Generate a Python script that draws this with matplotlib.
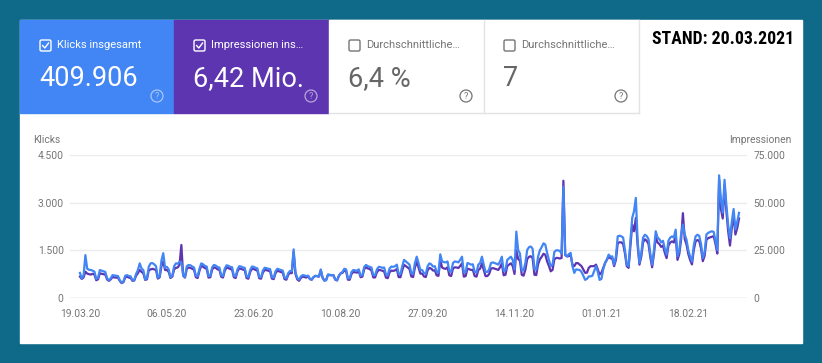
import matplotlib
matplotlib.use("Agg")
import matplotlib.pyplot as plt
import matplotlib.patches as mpatches
from matplotlib.ticker import FuncFormatter
from matplotlib import font_manager
import pandas as pd

# daily values, 19.03.20 .. 18.03.21 (rows = weeks starting on Thursday)
start_date = "2020-03-19"
clicks = [
    790, 610, 720, 1350, 920, 890, 880,
    860, 830, 600, 640, 880, 860, 840,
    820, 620, 560, 620, 720, 710, 700,
    690, 560, 480, 520, 700, 720, 690,
    680, 560, 570, 760, 880, 1090, 930,
    880, 590, 620, 980, 1090, 1100, 1060,
    1000, 640, 680, 1180, 1410, 950, 980,
    900, 650, 700, 1000, 1090, 1080, 1140,
    1120, 720, 660, 1000, 1040, 1030, 990,
    960, 700, 680, 920, 1090, 1060, 1010,
    990, 690, 700, 960, 1040, 1020, 970,
    960, 720, 690, 930, 1030, 1010, 980,
    970, 700, 680, 900, 1000, 990, 960,
    950, 680, 650, 880, 990, 980, 950,
    930, 670, 650, 860, 950, 940, 920,
    910, 660, 640, 840, 920, 900, 880,
    860, 640, 620, 780, 850, 840, 1530,
    820, 630, 580, 680, 720, 710, 690,
    700, 600, 580, 660, 700, 690, 680,
    900, 640, 540, 560, 740, 730, 720,
    720, 580, 560, 700, 780, 820, 920,
    900, 620, 620, 820, 880, 870, 860,
    900, 700, 720, 980, 1040, 1000, 980,
    960, 720, 720, 900, 980, 970, 950,
    960, 740, 720, 930, 990, 980, 1000,
    1050, 760, 750, 1000, 1200, 1150, 1100,
    1050, 780, 760, 1100, 1300, 1100, 880,
    880, 780, 760, 1000, 1090, 1060, 990,
    1000, 820, 800, 1375, 1150, 1130, 1120,
    1150, 850, 820, 1100, 1150, 1140, 1120,
    1200, 1300, 800, 820, 1100, 1080, 1050,
    1060, 820, 800, 1050, 1100, 1300, 1050,
    820, 820, 900, 1100, 1120, 1100, 1080,
    1050, 1150, 1300, 850, 870, 1200, 1250,
    1300, 1200, 900, 2090, 1510, 1400, 870,
    870, 1100, 1510, 1600, 1620, 1550, 900,
    890, 1300, 1500, 1600, 1720, 1680, 1420,
    1200, 1000, 1050, 1450, 1500, 1500, 1480,
    1400, 3500, 1350, 1310, 1380, 1420, 1000,
    790, 900, 890, 880, 820, 700, 570,
    600, 680, 680, 700, 850, 1000, 820,
    570, 600, 900, 1100, 1210, 1365, 1300,
    1310, 1050, 1300, 1940, 1960, 1940, 1900,
    1500, 1050, 1000, 1800, 2520, 2730, 3150,
    1800, 1100, 1400, 1900, 1990, 1950, 1850,
    1400, 1050, 1500, 2100, 1900, 1850, 1750,
    1800, 1550, 1365, 1800, 1900, 1940, 1900,
    2150, 1310, 1500, 2000, 2310, 2000, 1830,
    1500, 1300, 1150, 1650, 1940, 1990, 1960,
    1700, 1260, 1450, 2000, 2050, 2080, 2100,
    2080, 1800, 1510, 3860, 3100, 2680, 3720,
    2930, 2300, 1880, 2400, 2800, 2150, 2400,
    2680,
]
# impressions in thousands
impressions_k = [
    11.2, 10.0, 10.8, 13.8, 12.8, 12.5, 12.3,
    12.7, 12.3, 9.3, 9.8, 13.0, 12.7, 12.5,
    12.3, 9.7, 9.0, 9.8, 11.0, 10.8, 10.7,
    10.7, 9.0, 7.8, 8.3, 10.8, 11.2, 10.7,
    10.5, 9.0, 9.2, 11.7, 13.0, 14.7, 13.7,
    13.0, 9.5, 9.8, 14.5, 15.0, 15.3, 15.0,
    14.7, 10.2, 10.8, 16.7, 19.2, 14.7, 14.7,
    13.7, 10.5, 11.2, 15.0, 15.8, 16.0, 17.5,
    27.8, 11.7, 10.7, 15.3, 16.0, 15.8, 15.3,
    14.9, 10.9, 10.5, 14.3, 16.9, 16.4, 15.7,
    15.3, 10.7, 10.9, 14.9, 16.1, 15.8, 15.0,
    14.9, 11.2, 10.7, 14.4, 16.0, 15.7, 15.2,
    15.0, 10.9, 10.5, 14.0, 15.5, 15.3, 14.9,
    14.7, 10.5, 10.1, 13.6, 15.3, 15.2, 14.7,
    14.4, 10.4, 10.1, 13.3, 14.7, 14.6, 14.3,
    14.1, 10.2, 9.9, 13.0, 14.3, 14.0, 13.6,
    13.3, 9.9, 9.6, 12.1, 13.2, 13.0, 24.0,
    12.7, 9.8, 9.0, 10.5, 11.2, 11.0, 10.7,
    11.6, 9.9, 9.6, 10.9, 11.6, 11.4, 11.2,
    14.5, 10.6, 9.2, 9.6, 12.2, 12.0, 11.9,
    11.9, 9.6, 9.2, 11.6, 12.9, 13.2, 14.5,
    14.0, 9.6, 9.6, 12.7, 13.6, 13.5, 13.3,
    14.0, 10.9, 11.2, 15.2, 16.1, 15.5, 15.2,
    14.4, 10.8, 10.8, 13.5, 14.7, 14.6, 14.3,
    13.9, 10.7, 10.4, 13.5, 14.4, 14.2, 14.5,
    15.2, 11.0, 10.9, 14.5, 17.4, 16.7, 16.0,
    15.2, 11.3, 11.0, 16.0, 18.9, 16.0, 12.8,
    12.8, 11.3, 11.0, 14.5, 15.8, 15.4, 14.4,
    14.5, 11.9, 11.6, 20.0, 16.0, 15.5, 15.3,
    16.1, 11.9, 11.5, 15.4, 16.1, 16.0, 15.7,
    16.8, 18.2, 11.2, 11.5, 15.4, 15.1, 14.7,
    14.8, 11.5, 11.2, 14.7, 15.4, 18.2, 14.7,
    11.5, 11.5, 12.6, 15.4, 15.7, 15.4, 15.1,
    14.7, 16.1, 18.2, 11.9, 12.2, 16.8, 17.5,
    18.2, 16.8, 12.6, 25.0, 20.5, 19.5, 12.2,
    11.7, 14.9, 20.4, 21.6, 21.9, 20.9, 12.2,
    12.0, 17.6, 20.3, 21.6, 23.2, 22.7, 19.2,
    16.8, 14.0, 14.7, 20.3, 21.0, 21.0, 20.7,
    21.0, 61.5, 22.5, 21.8, 22.0, 22.5, 17.5,
    16.7, 18.3, 18.3, 17.5, 16.7, 15.0, 13.2,
    13.3, 15.8, 16.7, 16.7, 16.7, 17.5, 15.0,
    12.3, 13.3, 15.8, 18.3, 20.0, 21.7, 20.8,
    20.8, 16.7, 20.0, 28.8, 29.2, 29.2, 28.3,
    23.3, 16.7, 15.8, 27.5, 38.5, 35.0, 42.0,
    27.5, 17.5, 21.7, 29.2, 30.8, 30.0, 28.3,
    21.4, 16.1, 23.0, 32.1, 29.1, 28.3, 26.8,
    27.5, 23.7, 20.9, 27.5, 29.1, 29.7, 29.1,
    32.9, 20.0, 23.0, 30.6, 44.5, 31.0, 28.0,
    23.0, 19.9, 17.6, 25.2, 29.7, 30.4, 30.0,
    26.0, 19.3, 22.2, 30.6, 31.4, 31.8, 32.1,
    32.5, 28.3, 23.3, 61.7, 46.7, 41.7, 59.2,
    45.8, 35.0, 27.5, 36.7, 43.3, 33.3, 36.7,
    41.7,
]
tick_days = [0, 48, 96, 144, 192, 240, 288, 336]
click_ticks = [0, 1500, 3000, 4500]
impression_ticks = [0, 25000, 50000, 75000]

card_titles = ["Klicks insgesamt", "Impressionen ins…", "Durchschnittliche…", "Durchschnittliche…"]
card_values = ["409.906", "6,42 Mio.", "6,4 %", "7"]
card_checked = [True, True, False, False]
stand_text = "STAND: 20.03.2021"

TEAL = "#0e6a88"
BLUE = "#4285f4"
PURPLE = "#5e35b1"
GREY = "#757575"
plt.rcParams["font.family"] = ["Roboto", "DejaVu Sans"]

# narrowest bold face available for the "Stand" stamp
installed = {f.name for f in font_manager.fontManager.ttflist}
stand_family = "DejaVu Sans"
stand_size = 11
for name, size in [("Roboto Condensed", 12.8), ("Liberation Sans Narrow", 12.8), ("DejaVu Sans Condensed", 11.5)]:
    if name in installed:
        stand_family, stand_size = name, size
        break

dates = pd.date_range(start_date, periods=len(clicks), freq="D")
impressions = [v * 1000 for v in impressions_k]

fig = plt.figure(figsize=(8.22, 3.63), dpi=100, facecolor=TEAL)

# pixel-space background layer
bg = fig.add_axes([0, 0, 1, 1])
bg.set_xlim(0, 822)
bg.set_ylim(363, 0)
bg.axis("off")
bg.add_patch(mpatches.Rectangle((20, 20), 782, 323, color="white", zorder=0))

card_x = [20, 174, 329, 484]
card_w = [154, 155, 155, 155]
card_bg = [BLUE, PURPLE, "white", "white"]
for i in range(4):
    x0 = card_x[i]
    bg.add_patch(mpatches.Rectangle((x0, 20), card_w[i], 93, color=card_bg[i], zorder=1))
    if card_checked[i]:
        fg, lab_col, val_col, icon_col, icon_alpha = "white", "white", "white", "white", 0.55
    else:
        fg, lab_col, val_col, icon_col, icon_alpha = GREY, GREY, "#666666", GREY, 1.0
    # checkbox
    bx = x0 + 20
    bg.add_patch(mpatches.FancyBboxPatch((bx, 40), 11, 11, boxstyle="round,pad=0,rounding_size=1.6",
                                         fill=False, edgecolor=fg, lw=1.0, zorder=2))
    if card_checked[i]:
        bg.plot([bx + 2.6, bx + 4.8, bx + 8.6], [45.6, 48.0, 43.0], color="white", lw=1.0, zorder=3)
    bg.text(x0 + 37, 45.5, card_titles[i], color=lab_col, fontsize=8, va="center", ha="left", zorder=3)
    bg.text(x0 + 19, 86.5, card_values[i], color=val_col, fontsize=19.5, va="baseline", ha="left", zorder=3)
    # help icon
    cx = x0 + 137
    bg.add_patch(mpatches.Circle((cx, 96), 6, fill=False, edgecolor=icon_col, lw=0.9,
                                 alpha=icon_alpha, zorder=3))
    bg.text(cx, 96.3, "?", color=icon_col, alpha=icon_alpha, fontsize=6.5, ha="center", va="center", zorder=3)

# card borders of the white cards
bg.plot([329, 639], [113, 113], color="#e3e3e3", lw=1, zorder=2)
bg.plot([484, 484], [20, 113], color="#e3e3e3", lw=1, zorder=2)
bg.plot([639, 639], [20, 113], color="#e3e3e3", lw=1, zorder=2)

bg.text(723, 39.5, stand_text, fontsize=stand_size, fontweight="bold",
        family=[stand_family, "DejaVu Sans"], color="black", ha="center", va="center", zorder=3)

bg.text(33, 140, "Klicks", fontsize=7.4, color=GREY, ha="left", va="center")
bg.text(791, 140, "Impressionen", fontsize=7.4, color=GREY, ha="right", va="center")

# chart
ax = fig.add_axes([70 / 822, 65 / 363, 677 / 822, 143 / 363])
ax2 = ax.twinx()
ax.set_zorder(3)
ax2.set_zorder(2)
ax.patch.set_visible(False)
ax2.patch.set_visible(False)

ax2.plot(dates, impressions, color=PURPLE, lw=1.6, solid_joinstyle="round")
ax.plot(dates, clicks, color=BLUE, lw=1.6, solid_joinstyle="round")

for t in impression_ticks[1:]:
    ax2.axhline(t, color="#ebebeb", lw=1, zorder=0)
ax2.axhline(0, color="#c4c4c4", lw=1, zorder=0)

ax.set_ylim(0, 4500)
ax2.set_ylim(0, 75000)
ax.set_xlim(dates[0] - pd.Timedelta(days=5.5), dates[-1] + pd.Timedelta(days=4.4))

de_fmt = FuncFormatter(lambda v, p: f"{int(v):,}".replace(",", "."))
ax.set_yticks(click_ticks)
ax.yaxis.set_major_formatter(de_fmt)
ax2.set_yticks(impression_ticks)
ax2.yaxis.set_major_formatter(de_fmt)
ax.set_xticks([dates[d] for d in tick_days])
ax.set_xticklabels([dates[d].strftime("%d.%m.%y") for d in tick_days])

for a in (ax, ax2):
    for s in a.spines.values():
        s.set_visible(False)
ax.tick_params(axis="y", length=0, pad=4.5, labelsize=7.4, labelcolor=GREY)
ax2.tick_params(axis="y", length=0, pad=4.5, labelsize=7.4, labelcolor=GREY)
ax.tick_params(axis="x", length=0, pad=8, labelsize=7.4, labelcolor=GREY)

fig.savefig("out.png", dpi=100, facecolor=TEAL)
